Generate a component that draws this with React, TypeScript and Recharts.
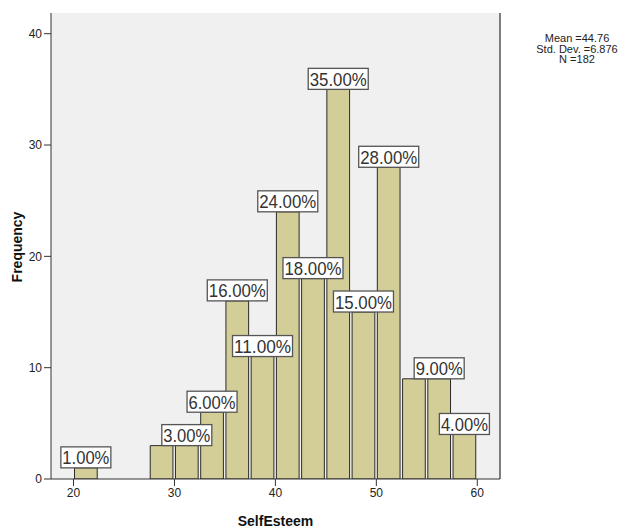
import React from "react";
import {
  BarChart,
  Bar,
  XAxis,
  YAxis,
  CartesianGrid,
  LabelList,
  ReferenceLine,
  Label,
} from "recharts";

// Histogram bins (start of each 2.5-wide bin), frequencies and printed labels
const binStarts = [20, 27.5, 30, 32.5, 35, 37.5, 40, 42.5, 45, 47.5, 50, 52.5, 55, 57.5];
const binWidth = 2.5;
const frequencies = [1, 3, 3, 6, 16, 11, 24, 18, 35, 15, 28, 9, 9, 4];
const pctLabels = [
  "1.00%", "", "3.00%", "6.00%", "16.00%", "11.00%", "24.00%",
  "18.00%", "35.00%", "15.00%", "28.00%", "", "9.00%", "4.00%",
];
const xTicks = [20, 30, 40, 50, 60];
const yTicks = [0, 10, 20, 30, 40];
const xDomain: [number, number] = [17.77, 62.25];
const yDomain: [number, number] = [0, 41.86];
const statsLines = ["Mean =44.76", "Std. Dev. =6.876", "N =182"];

const data = binStarts.map((s, i) => ({
  mid: s + binWidth / 2,
  freq: frequencies[i],
  label: pctLabels[i],
}));

const FONT = "'Liberation Sans', Arial, sans-serif";

const renderPct = (props: any) => {
  const { x, y, width, value } = props;
  if (!value) return null;
  const cx = Number(x) + Number(width) / 2;
  const top = Number(y);
  const digits = String(value).replace(/[^0-9]/g, "").length;
  const w = 10 * digits + 20;
  const h = 21;
  return (
    <g>
      <rect x={cx - w / 2} y={top - h} width={w} height={h} fill="#ffffff" stroke="#555555" strokeWidth={1.3} />
      <text
        x={cx}
        y={top - h / 2 + 0.5}
        textAnchor="middle"
        dominantBaseline="central"
        fontSize={19}
        fontFamily={FONT}
        fill="#333333"
        textLength={w - 3}
        lengthAdjust="spacingAndGlyphs"
      >
        {value}
      </text>
    </g>
  );
};

export default function App() {
  return (
    <div style={{ position: "relative", width: 625, height: 532, background: "#ffffff" }}>
      <style>{`body{margin:0}`}</style>
      <BarChart
        width={625}
        height={532}
        data={data}
        margin={{ top: 13, right: 125, bottom: 20, left: 0 }}
        barCategoryGap={0}
      >
        <CartesianGrid horizontal={false} vertical={false} fill="#F0F0F0" />
        <XAxis
          type="number"
          dataKey="mid"
          domain={xDomain}
          ticks={xTicks}
          allowDataOverflow
          height={33}
          tickSize={7}
          tickMargin={2}
          stroke="#333333"
          tick={{ fill: "#222222", fontSize: 12, fontFamily: FONT }}
        >
          <Label
            value="SelfEsteem"
            position="bottom"
            offset={4}
            style={{ fontSize: 14, fontWeight: 700, fontFamily: FONT, fill: "#111111" }}
          />
        </XAxis>
        <YAxis
          type="number"
          domain={yDomain}
          ticks={yTicks}
          allowDataOverflow
          width={51}
          tickSize={7}
          tickMargin={2}
          stroke="#333333"
          tick={{ fill: "#222222", fontSize: 12, fontFamily: FONT }}
        >
          <Label
            content={() => (
              <text
                x={17}
                y={247}
                transform="rotate(-90 17 247)"
                textAnchor="middle"
                dominantBaseline="central"
                fontSize={14}
                fontWeight={700}
                fontFamily={FONT}
                fill="#111111"
              >
                Frequency
              </text>
            )}
          />
        </YAxis>
        <ReferenceLine x={xDomain[1]} stroke="#555555" strokeWidth={1.5} />
        <Bar
          dataKey="freq"
          fill="#D3CE97"
          stroke="#2a2a2a"
          strokeWidth={1}
          barSize={25.26}
          isAnimationActive={false}
        >
          <LabelList dataKey="label" content={renderPct} />
        </Bar>
      </BarChart>
      <div
        style={{
          position: "absolute",
          left: 527,
          top: 33,
          width: 100,
          textAlign: "center",
          fontFamily: FONT,
          fontSize: 11,
          lineHeight: "10.7px",
          color: "#222222",
        }}
      >
        {statsLines.map((s) => (
          <div key={s}>{s}</div>
        ))}
      </div>
    </div>
  );
}
